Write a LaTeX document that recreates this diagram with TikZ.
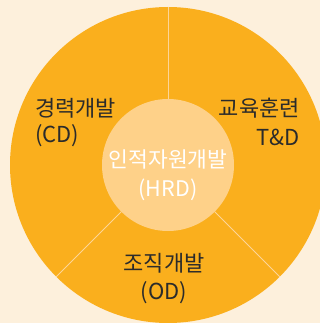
\documentclass[tikz,border=0pt]{standalone}
\usepackage{fontspec}
\newfontfamily\kr{Noto Sans CJK KR}
\definecolor{bg}{HTML}{FDF0DC}
\definecolor{ring}{HTML}{FAAF1D}
\definecolor{core}{HTML}{FED189}
\definecolor{sep}{HTML}{FDD597}
\definecolor{ink}{HTML}{2B2B2B}
\tikzset{
  lbl/.style={text=ink, inner sep=0pt},
  corelbl/.style={font=\kr\fontsize{21.5}{29.5}\selectfont, text=white, inner sep=0pt, align=center},
  sepline/.style={draw=sep, line width=0.8pt}
}
\begin{document}
\begin{tikzpicture}[x=1pt,y=-1pt]
\useasboundingbox (0,0) rectangle (320,323);
\clip (0,0) rectangle (320,323);
\fill[bg] (0,0) rectangle (320,323);
\node[circle, fill=ring, minimum size=316pt, inner sep=0pt] (outer) at (168,165) {};
\coordinate (c) at (168,165);
\draw[sepline] (c) -- (outer.90);
\draw[sepline] (c) -- (outer.225);
\draw[sepline] (c) -- (outer.315);
\node[circle, fill=core, minimum size=132pt, inner sep=0pt] (inner) at (c) {};
\node[corelbl] (hrd) at (168,175) {인적자원개발\\(HRD)};
\node[lbl, font=\kr\fontsize{22}{26}\selectfont, align=left, anchor=west] (cd) at (35,122.5) {경력개발\\(CD)};
\node[lbl, font=\kr\fontsize{22}{29}\selectfont, align=right, anchor=east] (td) at (300,122) {교육훈련\\T\&D};
\node[lbl, font=\kr\fontsize{22}{28}\selectfont, align=center] (od) at (164,278.5) {조직개발\\(OD)};
\end{tikzpicture}
\end{document}
